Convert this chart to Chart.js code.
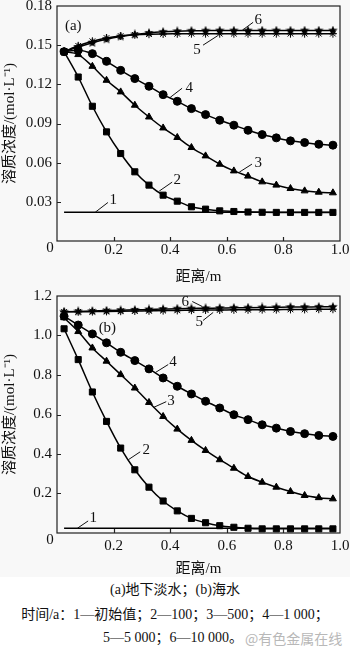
<!DOCTYPE html>
<html><head><meta charset="utf-8">
<script src="https://cdn.jsdelivr.net/npm/chart.js@4.4.0/dist/chart.umd.min.js"></script>
<style>
html,body{margin:0;padding:0;background:#fff;}
body{width:350px;height:654px;position:relative;overflow:hidden;font-family:"Liberation Serif","Noto Sans CJK SC",serif;}
#wa{position:absolute;left:0;top:0;width:350px;height:285px;background:#f8f8f8}
#wb{position:absolute;left:0;top:285px;width:350px;height:292px;background:#f8f8f8}
.cap{position:absolute;left:0;width:350px;text-align:center;font-size:14px;line-height:20px;height:20px;color:#111;white-space:nowrap}
#wm{position:absolute;left:245px;top:628px;font-size:14px;line-height:20px;color:#b8b8b8;font-family:"Noto Sans CJK SC",sans-serif;white-space:nowrap}
canvas{display:block}
</style></head><body>
<div id="wa"><canvas id="ca" width="350" height="285"></canvas></div>
<div id="wb"><canvas id="cb" width="350" height="292"></canvas></div>
<div class="cap" style="top:580px">(a)地下淡水；(b)海水</div>
<div class="cap" style="top:605px">时间/a：1—初始值；2—100；3—500；4—1 000；</div>
<div class="cap" style="top:628px;left:-2px">5—5 000；6—10 000。</div>
<div id="wm">@有色金属在线</div>
<script>
// ---------- data ----------
const distance = [0.025,0.075,0.125,0.175,0.225,0.275,0.325,0.375,0.425,0.475,0.525,0.575,0.625,0.675,0.725,0.775,0.825,0.875,0.925,0.975];
const seriesNames = ['1','2','3','4','5','6'];

// (a) 地下淡水
const a1 = [0.022,0.022,0.022,0.022,0.022,0.022,0.022,0.022,0.022,0.022,0.022,0.022,0.022,0.022,0.022,0.022,0.022,0.022,0.022,0.022];
const a2 = [0.145,0.1256,0.1032,0.0836,0.0670,0.0530,0.0428,0.0351,0.0305,0.0262,0.0244,0.0231,0.0226,0.0222,0.0220,0.0219,0.0219,0.0219,0.0219,0.0219];
const a3 = [0.145,0.1428,0.1338,0.1231,0.1142,0.1040,0.0950,0.0866,0.0793,0.0716,0.0652,0.0588,0.0537,0.0497,0.0453,0.0428,0.0402,0.0384,0.0374,0.0369];
const a4 = [0.145,0.1462,0.1435,0.1376,0.1307,0.1244,0.1185,0.1121,0.1070,0.1014,0.0968,0.0925,0.0887,0.0848,0.0815,0.0790,0.0767,0.0754,0.0741,0.0734];
const a5 = [0.145,0.1495,0.1530,0.1555,0.1570,0.1579,0.1584,0.1586,0.1587,0.1588,0.1588,0.1588,0.1588,0.1588,0.1588,0.1588,0.1588,0.1588,0.1588,0.1588];
const a6 = [0.145,0.1486,0.1518,0.1545,0.1566,0.1582,0.1594,0.1602,0.1607,0.1610,0.1611,0.1612,0.1612,0.1612,0.1612,0.1612,0.1612,0.1612,0.1612,0.1612];

// (b) 海水
const b1 = [0.024,0.024,0.024,0.024,0.024,0.024,0.024,0.024,0.024,0.024,0.024,0.024,0.024,0.024,0.024,0.024,0.024,0.024,0.024,0.024];
const b2 = [1.034,0.878,0.714,0.565,0.430,0.320,0.232,0.162,0.112,0.074,0.052,0.037,0.029,0.024,0.021,0.021,0.021,0.021,0.021,0.021];
const b3 = [1.090,1.020,0.937,0.870,0.802,0.734,0.661,0.590,0.526,0.469,0.418,0.371,0.328,0.286,0.257,0.232,0.210,0.190,0.179,0.173];
const b4 = [1.098,1.053,1.008,0.963,0.915,0.873,0.831,0.785,0.743,0.704,0.667,0.633,0.599,0.574,0.548,0.531,0.514,0.503,0.494,0.489];
const b5 = [1.120,1.120,1.121,1.122,1.123,1.124,1.125,1.126,1.127,1.128,1.129,1.129,1.130,1.130,1.131,1.131,1.132,1.132,1.133,1.133];
const b6 = [1.120,1.122,1.124,1.126,1.128,1.130,1.132,1.134,1.136,1.137,1.138,1.139,1.140,1.141,1.142,1.143,1.144,1.144,1.145,1.145];

// ticks
const xTickValues = [0,0.2,0.4,0.6,0.8,1.0];
const xTickLabels = ['0','0.2','0.4','0.6','0.8','1.0'];
const yTickValuesA = [0,0.03,0.06,0.09,0.12,0.15,0.18];
const yTickLabelsA = ['0','0.03','0.06','0.09','0.12','0.15','0.18'];
const yTickValuesB = [0,0.2,0.4,0.6,0.8,1.0,1.2];
const yTickLabelsB = ['0','0.2','0.4','0.6','0.8','1.0','1.2'];

const xTitle = '距离/m';
const yTitle = '溶质浓度/(mol·L⁻¹)';

// ---------- styles ----------
const FONT = '"Liberation Serif","Noto Sans CJK SC",serif';
function makeStar(size){
  const c=document.createElement('canvas'); c.width=c.height=size;
  const g=c.getContext('2d'); g.fillStyle='#000'; g.beginPath();
  for(let i=0;i<10;i++){
    const r=(i%2)?size*0.22:size/2; const a=-Math.PI/2+i*Math.PI/5;
    g.lineTo(size/2+r*Math.cos(a), size/2+r*Math.sin(a));
  }
  g.closePath(); g.fill(); return c;
}
const starImg = makeStar(10);
const markerStyles = [
  {pointStyle:false, pointRadius:0},
  {pointStyle:'rect', pointRadius:4.3},
  {pointStyle:'triangle', pointRadius:4},
  {pointStyle:'circle', pointRadius:4},
  {pointStyle:'star', pointRadius:4},
  {pointStyle:starImg, pointRadius:5}
];

function buildDatasets(list){
  return list.map((vals,i)=>Object.assign({
    label: seriesNames[i],
    data: distance.map((x,j)=>({x:x,y:vals[j]})),
    borderColor:'#000', backgroundColor:'#000',
    pointBackgroundColor:'#000', pointBorderColor:'#000',
    borderWidth:1.5, pointBorderWidth:1, tension:0.35, cubicInterpolationMode:'monotone'
  }, markerStyles[i]));
}

const framePlugin = {
  id:'frame',
  afterDatasetsDraw(chart, args, opts){
    const {ctx, chartArea:ca, scales:{x,y}} = chart;
    ctx.save();
    ctx.strokeStyle='#222'; ctx.lineWidth=1.2;
    ctx.strokeRect(ca.left, ca.top, ca.right-ca.left, ca.bottom-ca.top);
    ctx.beginPath();
    opts.yTicks.forEach(v=>{ if(v===0||v===opts.yTicks[opts.yTicks.length-1]) return;
      const py=Math.round(y.getPixelForValue(v))+0.5; ctx.moveTo(ca.left,py); ctx.lineTo(ca.left+4,py); });
    opts.xTicks.forEach(v=>{ if(v===0||v===1) return;
      const px=Math.round(x.getPixelForValue(v))+0.5; ctx.moveTo(px,ca.bottom); ctx.lineTo(px,ca.bottom-4); });
    ctx.stroke();
    ctx.fillStyle='#111'; ctx.font='15px '+FONT; ctx.textAlign='center'; ctx.textBaseline='middle';
    ctx.fillText('0', ca.left-7, ca.bottom+7);
    ctx.lineWidth=1; ctx.strokeStyle='#111';
    opts.notes.forEach(n=>{
      if(n.line){
        ctx.beginPath();
        ctx.moveTo(x.getPixelForValue(n.line[0]), y.getPixelForValue(n.line[1]));
        ctx.lineTo(x.getPixelForValue(n.line[2]), y.getPixelForValue(n.line[3]));
        ctx.stroke();
      }
      ctx.fillText(n.t, x.getPixelForValue(n.at[0]), y.getPixelForValue(n.at[1]));
    });
    ctx.restore();
  }
};

function makeChart(id, sets, yMax, yTicks, yLabels, cfg){
  const tickFont = {family:FONT, size:15};
  return new Chart(document.getElementById(id), {
    type:'line',
    data:{datasets: buildDatasets(sets)},
    plugins:[framePlugin],
    options:{
      responsive:false, animation:false, devicePixelRatio:1,
      layout:{padding:{top:cfg.top, right:10, left:0, bottom:0}},
      plugins:{legend:{display:false}, tooltip:{enabled:false},
        frame:{xTicks:xTickValues, yTicks:yTicks, notes:cfg.notes}},
      scales:{
        x:{type:'linear', min:0, max:1,
          afterBuildTicks(s){ s.ticks = xTickValues.map(v=>({value:v})); },
          afterFit(s){ s.height = cfg.xh; s.paddingLeft=0; s.paddingRight=0; },
          grid:{display:false, drawTicks:false}, border:{display:false},
          ticks:{color:'#111', font:tickFont, padding:cfg.xpad, maxRotation:0, autoSkip:false,
            callback:(v,i)=> i===0 ? '' : xTickLabels[i]},
          title:{display:true, text:xTitle, color:'#111', font:{family:FONT, size:15, lineHeight:1}, padding:{top:0,bottom:0}}
        },
        y:{type:'linear', min:0, max:yMax,
          afterBuildTicks(s){ s.ticks = yTicks.map(v=>({value:v})); },
          afterFit(s){ s.width = 57; s.paddingTop=0; s.paddingBottom=0; },
          grid:{display:false, drawTicks:false}, border:{display:false},
          ticks:{color:'#111', font:tickFont, padding:5, autoSkip:false,
            callback:(v,i)=> i===0 ? '' : yLabels[i]},
          title:{display:true, text:yTitle, color:'#111', font:{family:FONT, size:15}, padding:{top:1,bottom:0}}
        }
      }
    }
  });
}

makeChart('ca', [a1,a2,a3,a4,a5,a6], 0.18, yTickValuesA, yTickLabelsA, {
  top:6, xh:44, xpad:0,
  notes:[
    {t:'1', line:[0.135,0.022,0.18,0.0295], at:[0.199,0.031]},
    {t:'2', line:[0.361,0.0382,0.407,0.0451], at:[0.425,0.0465]},
    {t:'3', line:[0.644,0.0527,0.689,0.0589], at:[0.711,0.060]},
    {t:'4', line:[0.400,0.110,0.442,0.117], at:[0.467,0.1175]},
    {t:'5', line:[0.516,0.150,0.566,0.157], at:[0.495,0.146]},
    {t:'6', line:[0.654,0.1613,0.693,0.1675], at:[0.711,0.169]},
    {t:'(a)', at:[0.0575,0.165]}
  ]
});
makeChart('cb', [b1,b2,b3,b4,b5,b6], 1.2, yTickValuesB, yTickLabelsB, {
  top:11, xh:44, xpad:4,
  notes:[
    {t:'1', line:[0.072,0.024,0.110,0.061], at:[0.128,0.076]},
    {t:'2', line:[0.252,0.371,0.294,0.411], at:[0.315,0.418]},
    {t:'3', line:[0.340,0.635,0.386,0.665], at:[0.403,0.668]},
    {t:'4', line:[0.347,0.812,0.393,0.853], at:[0.410,0.866]},
    {t:'5', line:[0.516,1.076,0.552,1.117], at:[0.503,1.066]},
    {t:'6', line:[0.478,1.172,0.513,1.147], at:[0.453,1.168]},
    {t:'(b)', at:[0.178,1.04]}
  ]
});
</script>
</body></html>
